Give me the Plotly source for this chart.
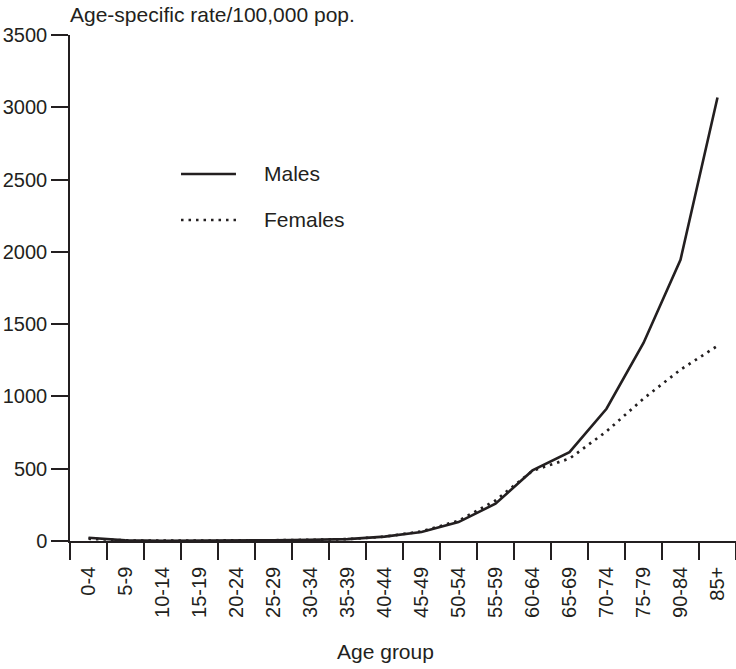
import plotly.graph_objects as go

# Age-specific incidence rates per 100,000 population
age_groups = ["0-4", "5-9", "10-14", "15-19", "20-24", "25-29", "30-34", "35-39",
              "40-44", "45-49", "50-54", "55-59", "60-64", "65-69", "70-74",
              "75-79", "90-84", "85+"]
males = [22, 4, 2, 2, 3, 5, 8, 13, 30, 62, 131, 258, 488, 615, 915, 1370, 1945, 3068]
females = [16, 4, 2, 2, 3, 5, 8, 13, 30, 66, 140, 280, 486, 570, 758, 985, 1185, 1350]
y_ticks = [0, 500, 1000, 1500, 2000, 2500, 3000, 3500]

INK = "#231f20"
FONT = "Liberation Sans, Arial, sans-serif"
FS_TICK = 20
FS_TEXT = 21
DOT = "2.5px,5px"

fig = go.Figure()
fig.add_trace(go.Scatter(
    x=age_groups, y=females, mode="lines", name="Females",
    line=dict(color=INK, width=2.7, dash=DOT), showlegend=False,
))
fig.add_trace(go.Scatter(
    x=age_groups, y=males, mode="lines", name="Males",
    line=dict(color=INK, width=2.6), showlegend=False,
))

fig.update_xaxes(
    type="category", range=[-0.5, 17.5], tickson="boundaries",
    showline=True, linecolor=INK, linewidth=1.5,
    ticks="outside", ticklen=17, tickwidth=1.5, tickcolor=INK,
    tickangle=-90, ticklabelstandoff=16,
    tickfont=dict(family=FONT, size=FS_TICK, color=INK),
    showgrid=False, zeroline=False,
)
fig.update_yaxes(
    range=[0, 3500], tickvals=y_ticks,
    showline=True, linecolor=INK, linewidth=1.5,
    ticks="outside", ticklen=17, tickwidth=1.5, tickcolor=INK,
    ticklabelstandoff=0,
    tickfont=dict(family=FONT, size=FS_TICK, color=INK),
    showgrid=False, zeroline=False,
)

annotations = [
    dict(text="Age-specific rate/100,000 pop.", xref="paper", yref="paper",
         x=-0.003, y=1.0415, xanchor="left", yanchor="middle", showarrow=False,
         font=dict(family=FONT, size=FS_TEXT, color=INK)),
    dict(text="Age group", xref="paper", yref="paper",
         x=0.473, y=-0.219, xanchor="center", yanchor="middle", showarrow=False,
         font=dict(family=FONT, size=FS_TEXT, color=INK)),
    dict(text="Males", xref="paper", yref="paper",
         x=0.2883, y=0.7253, xanchor="left", yanchor="middle", showarrow=False,
         font=dict(family=FONT, size=FS_TEXT, color=INK)),
    dict(text="Females", xref="paper", yref="paper",
         x=0.2883, y=0.6344, xanchor="left", yanchor="middle", showarrow=False,
         font=dict(family=FONT, size=FS_TEXT, color=INK)),
]

# Legend key samples
shapes = [
    dict(type="line", xref="paper", yref="paper", x0=0.1667, x1=0.2492,
         y0=0.7253, y1=0.7253, line=dict(color=INK, width=2.6)),
    dict(type="line", xref="paper", yref="paper", x0=0.1667, x1=0.2492,
         y0=0.6344, y1=0.6344, line=dict(color=INK, width=2.7, dash=DOT)),
]

fig.update_layout(
    width=736, height=669,
    margin=dict(l=70, r=0, t=35, b=128),
    plot_bgcolor="white", paper_bgcolor="white",
    annotations=annotations, shapes=shapes,
    font=dict(family=FONT, size=FS_TICK, color=INK),
)

fig.write_html("out.html")
